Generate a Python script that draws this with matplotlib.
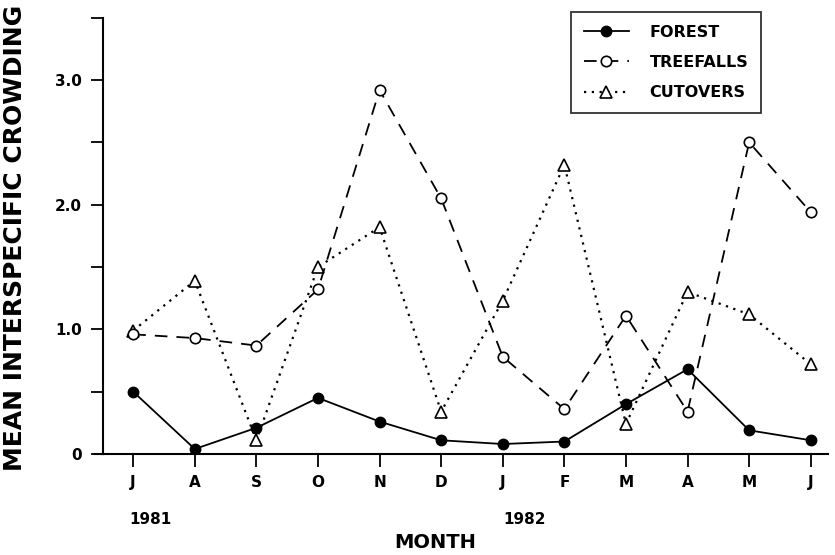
import matplotlib
matplotlib.use('Agg')
import matplotlib.pyplot as plt

months = ['J', 'A', 'S', 'O', 'N', 'D', 'J', 'F', 'M', 'A', 'M', 'J']
forest = [0.50, 0.04, 0.21, 0.45, 0.26, 0.11, 0.08, 0.10, 0.40, 0.68, 0.19, 0.11]
treefalls = [0.96, 0.93, 0.87, 1.32, 2.92, 2.05, 0.78, 0.36, 1.11, 0.34, 2.50, 1.94]
cutovers = [0.99, 1.39, 0.11, 1.50, 1.82, 0.34, 1.23, 2.32, 0.24, 1.30, 1.12, 0.72]
years = ['1981', '1982']

plt.rcParams['font.family'] = ['DejaVu Sans']
plt.rcParams['font.weight'] = 'bold'

fig = plt.figure(figsize=(8.35, 5.55), dpi=100)
ax = fig.add_axes([103 / 835, 0.182, (828 - 103) / 835, 0.968 - 0.182])

x = list(range(len(months)))

# Plot the three habitats
ax.plot(x, forest, color='black', lw=1.3, marker='o', ms=7.5,
        mfc='black', mec='black', label='FOREST', zorder=4)
ax.plot(x, treefalls, color='black', lw=1.3, ls=(0, (7, 5)), marker='o', ms=7.5,
        mfc='white', mec='black', mew=1.2, label='TREEFALLS', zorder=3)
ax.plot(x, cutovers, color='black', lw=1.6, ls=(0, (1, 2.5)), marker='^', ms=8.5,
        mfc='white', mec='black', mew=1.2, label='CUTOVERS', zorder=2)

ax.set_xlim(-0.49, 11.28)
ax.set_ylim(0, 3.5)

ax.spines['top'].set_visible(False)
ax.spines['right'].set_visible(False)
ax.spines['left'].set_linewidth(1.5)
ax.spines['bottom'].set_linewidth(1.5)
# x-axis line pokes out a little to the left of the y-axis
ax.plot([-0.62, -0.49], [0, 0], color='black', lw=1.5, clip_on=False)

ax.set_xticks(x)
ax.set_xticklabels(months, fontsize=11, fontweight='bold')
yt = [0, 0.5, 1.0, 1.5, 2.0, 2.5, 3.0, 3.5]
ax.set_yticks(yt)
ax.set_yticklabels(['0', '', '1.0', '', '2.0', '', '3.0', ''], fontsize=11, fontweight='bold')
ax.tick_params(axis='both', direction='out', length=9, width=1.3, pad=6)

# year labels under the months
ax.text(0.28, -0.15, years[0], transform=ax.get_xaxis_transform(),
        ha='center', va='center', fontsize=11, fontweight='bold')
ax.text(6.36, -0.15, years[1], transform=ax.get_xaxis_transform(),
        ha='center', va='center', fontsize=11, fontweight='bold')

fig.text(435 / 835, 1 - 543 / 555, 'MONTH', ha='center', va='center',
         fontsize=14, fontweight='bold')
fig.text(15 / 835, 1 - 238 / 555, 'MEAN INTERSPECIFIC CROWDING', rotation=90,
         ha='center', va='center', fontsize=18, fontweight='bold')

leg = ax.legend(loc='upper right', bbox_to_anchor=(761 / 835, 1 - 12 / 555),
                bbox_transform=fig.transFigure, frameon=True, fancybox=False,
                edgecolor='black', fontsize=11.5, handlelength=2.8,
                labelspacing=0.95, borderpad=0.8, handletextpad=1.3,
                borderaxespad=0)
leg.get_frame().set_linewidth(1.3)

fig.savefig('out.png', dpi=100)
